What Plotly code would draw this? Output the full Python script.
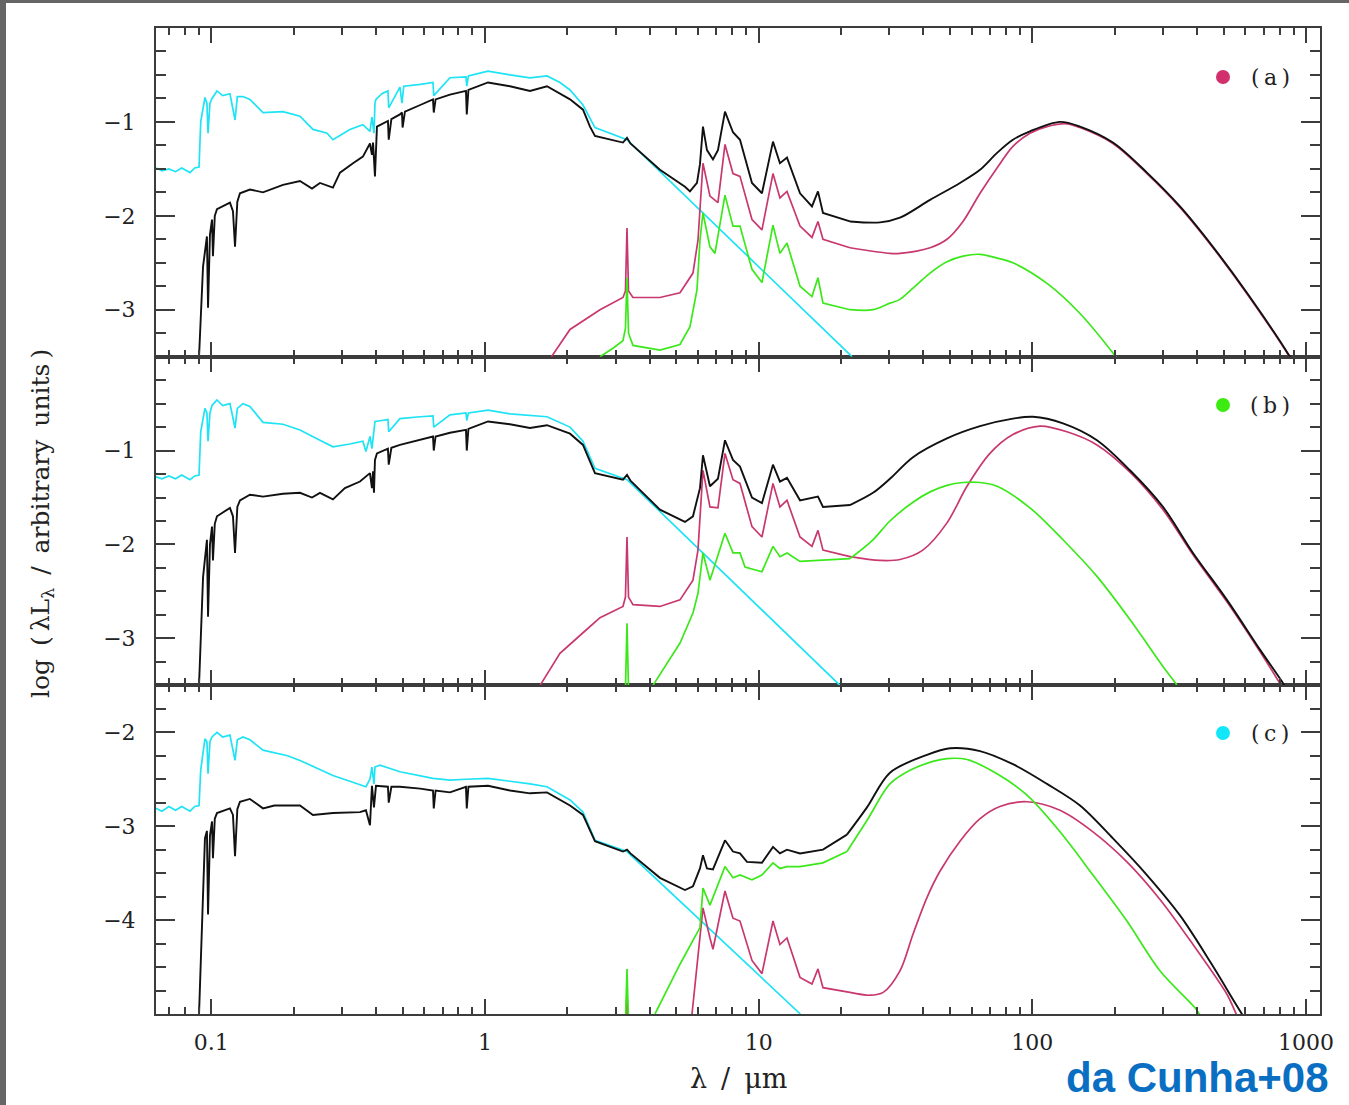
import plotly.graph_objects as go

# ---------------- data: (wavelength in micron, log(lambda L_lambda)) ----------------
# Panel (a)
a_stars = [(0.0628,-1.49),(0.066,-1.52),(0.070,-1.50),(0.074,-1.53),(0.078,-1.49),(0.0836,-1.54),(0.087,-1.49),
           (0.0902,-1.48),(0.0915,-1.00),(0.0948,-0.74),(0.0964,-0.80),(0.0973,-1.12),(0.0989,-0.80),(0.1006,-0.75),
           (0.1049,-0.67),(0.110,-0.72),(0.117,-0.70),(0.1221,-0.98),(0.1245,-0.73),(0.1305,-0.73),(0.1384,-0.76),
           (0.1545,-0.90),(0.1828,-0.89),(0.2109,-0.94),(0.2352,-1.08),(0.265,-1.12),(0.2783,-1.19),(0.321,-1.08),
           (0.358,-1.03),(0.380,-1.10),(0.3864,-0.95),(0.3930,-1.12),(0.3963,-0.80),(0.3997,-0.76),(0.420,-0.70),
           (0.4420,-0.67),(0.4450,-0.85),(0.489,-0.63),(0.4974,-0.80),(0.505,-0.62),(0.580,-0.60),(0.6457,-0.58),
           (0.650,-0.72),(0.745,-0.53),(0.8522,-0.52),(0.858,-0.62),(0.87,-0.51),(1.026,-0.46),(1.234,-0.50),
           (1.460,-0.53),(1.685,-0.51),(1.879,-0.58),(2.045,-0.66),(2.281,-0.82),(2.523,-1.06),(3.303,-1.19),(21.93,-3.50)]
a_total = [(0.0902,-3.50),(0.0933,-2.54),(0.0964,-2.22),(0.0973,-2.98),(0.0989,-2.20),(0.1006,-2.04),(0.1014,-2.43),
           (0.1030,-2.00),(0.1049,-1.93),(0.110,-1.90),(0.117,-1.86),(0.120,-1.95),(0.1221,-2.33),(0.1245,-1.85),
           (0.1273,-1.76),(0.1384,-1.72),(0.1545,-1.75),(0.1828,-1.67),(0.2109,-1.63),(0.2333,-1.71),(0.2495,-1.65),
           (0.2783,-1.70),(0.2953,-1.54),(0.3295,-1.44),(0.358,-1.37),(0.380,-1.23),(0.3864,-1.35),(0.390,-1.22),
           (0.3963,-1.58),(0.403,-1.05),(0.420,-1.02),(0.4420,-0.99),(0.4450,-1.19),(0.455,-0.97),(0.489,-0.92),
           (0.4974,-0.90),(0.500,-1.06),(0.510,-0.89),(0.580,-0.82),(0.6457,-0.76),(0.650,-0.90),(0.660,-0.76),
           (0.745,-0.71),(0.8522,-0.67),(0.858,-0.92),(0.87,-0.66),(1.026,-0.58),(1.234,-0.62),(1.460,-0.67),
           (1.685,-0.62),(2.045,-0.76),(2.281,-0.87),(2.419,-1.05),(2.523,-1.15),(3.193,-1.22),(3.303,-1.17),
           (3.40,-1.23),(4.358,-1.51),(5.380,-1.69),(5.611,-1.74),(5.951,-1.65),(6.103,-1.45),(6.259,-1.05),
           (6.473,-1.30),(6.808,-1.40),(7.100,-1.30),(7.532,-0.89),(8.056,-1.11),(8.546,-1.19),(9.453,-1.65),
           (10.28,-1.76),(11.28,-1.21),(11.96,-1.44),(12.69,-1.38),(14.16,-1.76),(15.66,-1.90),(16.47,-1.74),
           (17.18,-1.97),(21.56,-2.06),(27.75,-2.07),(32.83,-2.02),(42.3,-1.83),(54.4,-1.65),(64.4,-1.51),
           (74.3,-1.33),(84.9,-1.19),(98.0,-1.10),(126.2,-1.00),(149.3,-1.05),(197.0,-1.22),(262.2,-1.54),
           (346.3,-1.90),(457,-2.33),(608,-2.82),(873,-3.50),(900,-3.57)]
a_birth = [(1.75,-3.50),(2.045,-3.21),(2.632,-3.00),(3.193,-2.87),(3.260,-2.80),(3.303,-2.13),(3.346,-2.80),
           (3.473,-2.87),(4.358,-2.87),(5.159,-2.82),(5.754,-2.61),(6.001,-2.26),(6.259,-1.44),(6.638,-1.79),
           (7.100,-1.86),(7.532,-1.24),(8.056,-1.55),(8.546,-1.58),(9.453,-2.04),(10.28,-2.15),(11.28,-1.55),
           (11.96,-1.81),(12.69,-1.74),(14.16,-2.11),(15.66,-2.23),(16.47,-2.06),(17.18,-2.25),(21.56,-2.34),
           (30.18,-2.40),(32.83,-2.40),(42.3,-2.34),(48.76,-2.25),(55.8,-2.06),(64.4,-1.76),(74.3,-1.49),
           (84.9,-1.26),(98.0,-1.12),(113.1,-1.05),(133.8,-1.02),(149.3,-1.06),(197.0,-1.23),(262.2,-1.55),
           (346.3,-1.91),(457,-2.34),(608,-2.83),(873,-3.51),(900,-3.58)]
a_ism = [(2.632,-3.50),(2.936,-3.41),(3.193,-3.33),(3.260,-3.20),(3.303,-2.66),(3.346,-3.25),(3.473,-3.38),
         (4.358,-3.43),(5.159,-3.37),(5.611,-3.18),(5.951,-2.79),(6.103,-2.26),(6.259,-1.97),(6.638,-2.33),
         (6.923,-2.40),(7.532,-1.78),(8.056,-2.11),(8.546,-2.11),(9.453,-2.57),(10.28,-2.71),(11.28,-2.10),
         (11.96,-2.40),(12.69,-2.29),(14.16,-2.75),(15.66,-2.86),(16.47,-2.66),(17.18,-2.93),(21.56,-3.00),
         (26.16,-3.00),(30.18,-2.93),(32.83,-2.89),(36.63,-2.77),(42.3,-2.61),(48.76,-2.49),(55.8,-2.43),
         (64.4,-2.41),(74.3,-2.45),(84.9,-2.50),(113.1,-2.72),(149.3,-3.04),(197.0,-3.46),(204,-3.52)]

# Panel (b)
b_stars = [(0.0628,-1.28),(0.066,-1.30),(0.070,-1.27),(0.074,-1.30),(0.078,-1.26),(0.0836,-1.31),(0.087,-1.27),
           (0.0902,-1.26),(0.0915,-0.80),(0.0948,-0.55),(0.0964,-0.60),(0.0973,-0.90),(0.0989,-0.60),(0.1006,-0.52),
           (0.1049,-0.46),(0.110,-0.52),(0.117,-0.50),(0.1221,-0.76),(0.1245,-0.55),(0.1305,-0.50),(0.1384,-0.53),
           (0.1545,-0.70),(0.1828,-0.72),(0.2109,-0.78),(0.2495,-0.89),(0.2783,-0.96),(0.321,-0.93),(0.358,-0.90),
           (0.3673,-1.01),(0.380,-0.85),(0.3864,-0.98),(0.3963,-0.69),(0.420,-0.68),(0.4420,-0.67),(0.4450,-0.80),
           (0.489,-0.66),(0.580,-0.64),(0.6457,-0.63),(0.650,-0.75),(0.745,-0.62),(0.8522,-0.60),(0.858,-0.68),
           (0.87,-0.60),(1.026,-0.57),(1.234,-0.61),(1.685,-0.64),(2.045,-0.75),(2.281,-0.90),(2.523,-1.19),
           (3.303,-1.31),(19.82,-3.50)]
b_total = [(0.0902,-3.50),(0.0933,-2.35),(0.0964,-1.95),(0.0973,-2.77),(0.0989,-2.00),(0.1006,-1.81),(0.1014,-2.17),
           (0.1030,-1.78),(0.1049,-1.70),(0.110,-1.66),(0.117,-1.61),(0.120,-1.70),(0.1221,-2.09),(0.1245,-1.60),
           (0.1273,-1.53),(0.1384,-1.47),(0.1545,-1.49),(0.1828,-1.46),(0.2109,-1.45),(0.2333,-1.50),(0.2495,-1.45),
           (0.2783,-1.52),(0.3078,-1.40),(0.3494,-1.33),(0.380,-1.24),(0.3864,-1.40),(0.390,-1.22),(0.3930,-1.45),
           (0.3963,-1.10),(0.403,-1.03),(0.4420,-0.98),(0.4450,-1.15),(0.455,-0.97),(0.489,-0.94),(0.580,-0.88),
           (0.6457,-0.85),(0.650,-1.00),(0.660,-0.85),(0.745,-0.81),(0.8522,-0.78),(0.858,-1.00),(0.87,-0.77),
           (1.026,-0.69),(1.234,-0.72),(1.460,-0.76),(1.685,-0.73),(2.045,-0.82),(2.281,-0.94),(2.523,-1.24),
           (3.193,-1.31),(3.303,-1.26),(3.40,-1.32),(4.358,-1.63),(5.380,-1.76),(5.754,-1.70),(6.103,-1.40),
           (6.259,-1.05),(6.638,-1.38),(7.100,-1.30),(7.532,-0.89),(8.056,-1.10),(8.546,-1.17),(9.453,-1.50),
           (10.28,-1.56),(11.28,-1.15),(11.96,-1.33),(12.69,-1.29),(14.16,-1.53),(16.47,-1.49),(17.18,-1.60),
           (21.56,-1.58),(26.16,-1.45),(30.18,-1.30),(36.63,-1.07),(48.76,-0.87),(64.4,-0.74),
           (84.9,-0.66),(100.5,-0.64),(129.4,-0.71),(172.2,-0.89),(227.3,-1.21),(300.1,-1.60),(386.3,-2.09),
           (514,-2.59),(678.6,-3.12),(816.5,-3.46),(850,-3.55)]
b_birth = [(1.59,-3.50),(1.879,-3.16),(2.281,-2.94),(2.632,-2.78),(3.193,-2.66),(3.260,-2.56),(3.303,-1.92),
           (3.346,-2.56),(3.473,-2.64),(4.358,-2.66),(5.159,-2.59),(5.754,-2.38),(6.001,-2.06),(6.259,-1.21),
           (6.638,-1.60),(7.100,-1.61),(7.532,-1.03),(8.056,-1.31),(8.546,-1.35),(9.453,-1.81),(10.28,-1.92),
           (11.28,-1.35),(11.96,-1.60),(12.69,-1.53),(14.16,-1.92),(15.66,-2.02),(16.47,-1.85),(17.18,-2.06),
           (21.56,-2.13),(27.75,-2.17),(32.83,-2.16),(39.8,-2.06),(48.76,-1.77),(57.7,-1.38),(70.0,-1.03),
           (84.9,-0.83),(106.6,-0.74),(133.8,-0.80),(172.2,-0.94),(227.3,-1.23),(300.1,-1.63),(386.3,-2.11),
           (514,-2.61),(678.6,-3.14),(802.9,-3.48),(830,-3.55)]
b_ism = [(3.26,-3.55),(3.303,-2.84),(3.346,-3.55),(None,None),
         (4.11,-3.50),(4.624,-3.26),(5.159,-3.05),(5.754,-2.73),(6.001,-2.52),(6.259,-2.09),(6.638,-2.38),
         (7.532,-1.88),(8.056,-2.09),(8.546,-2.09),(8.913,-2.24),(10.28,-2.29),(11.28,-2.02),(11.96,-2.13),
         (12.69,-2.09),(14.16,-2.18),(16.47,-2.17),(21.56,-2.15),(26.16,-1.95),(30.18,-1.75),
         (36.63,-1.55),(42.3,-1.44),(48.76,-1.37),(55.8,-1.34),(64.4,-1.34),(74.3,-1.38),(98.0,-1.61),
         (129.4,-1.95),(172.2,-2.34),(227.3,-2.80),(300.1,-3.30),(337.6,-3.50),(345,-3.55)]

# Panel (c)
c_stars = [(0.0628,-2.81),(0.066,-2.84),(0.070,-2.79),(0.074,-2.83),(0.078,-2.79),(0.0836,-2.84),(0.087,-2.79),
           (0.0902,-2.78),(0.0915,-2.40),(0.0948,-2.07),(0.0964,-2.10),(0.0973,-2.44),(0.0989,-2.10),(0.1006,-2.05),
           (0.1049,-2.00),(0.110,-2.05),(0.117,-2.03),(0.1221,-2.30),(0.1245,-2.08),(0.1305,-2.05),(0.1384,-2.08),
           (0.1545,-2.19),(0.190,-2.25),(0.2109,-2.30),(0.2783,-2.46),(0.3494,-2.56),(0.3673,-2.58),(0.380,-2.50),
           (0.3864,-2.37),(0.3930,-2.55),(0.3963,-2.37),(0.4134,-2.35),(0.489,-2.42),(0.6457,-2.49),(0.745,-2.51),
           (0.8522,-2.50),(1.026,-2.49),(1.460,-2.55),(1.685,-2.58),(2.045,-2.72),(2.281,-2.85),(2.523,-3.15),
           (3.303,-3.27),(14.2,-5.00)]
c_total = [(0.0902,-5.00),(0.0948,-3.13),(0.0964,-3.05),(0.0973,-3.94),(0.0989,-3.10),(0.1006,-2.95),(0.1014,-3.34),
           (0.1030,-2.92),(0.1049,-2.86),(0.110,-2.84),(0.117,-2.81),(0.120,-2.88),(0.1221,-3.32),(0.1245,-2.82),
           (0.1273,-2.74),(0.1384,-2.71),(0.1545,-2.81),(0.170,-2.78),(0.2109,-2.78),(0.2352,-2.88),(0.2783,-2.86),
           (0.3494,-2.85),(0.3673,-2.83),(0.380,-2.99),(0.3864,-2.57),(0.3930,-2.80),(0.3997,-2.57),(0.4420,-2.58),
           (0.4450,-2.75),(0.455,-2.58),(0.489,-2.58),(0.580,-2.60),(0.6457,-2.62),(0.650,-2.81),(0.660,-2.62),
           (0.745,-2.64),(0.8522,-2.58),(0.858,-2.81),(0.87,-2.58),(1.026,-2.57),(1.234,-2.62),(1.460,-2.65),
           (1.685,-2.64),(2.045,-2.78),(2.281,-2.88),(2.523,-3.16),(3.193,-3.27),(3.303,-3.25),(3.40,-3.29),
           (4.358,-3.55),(5.380,-3.68),(5.754,-3.64),(6.103,-3.45),(6.259,-3.31),(6.473,-3.45),(6.808,-3.46),
           (7.532,-3.15),(8.056,-3.27),(8.546,-3.29),(9.064,-3.38),(10.28,-3.39),(11.28,-3.22),(11.96,-3.29),
           (12.69,-3.25),(14.16,-3.29),(17.18,-3.25),(21.02,-3.09),(24.87,-2.80),(30.18,-2.43),
           (41.2,-2.24),(50.0,-2.17),(64.4,-2.20),(84.9,-2.34),(113.1,-2.55),
           (149.3,-2.78),(197.0,-3.13),(262.2,-3.52),(346.3,-3.95),(450,-4.46),(550,-4.88),(583,-5.00),(600,-5.06)]
c_birth = [(3.27,-5.10),(3.303,-4.75),(3.33,-5.10),(None,None),
           (5.707,-5.00),(5.951,-4.50),(6.259,-3.87),(6.638,-4.19),(6.808,-4.31),(7.532,-3.69),(8.056,-3.98),
           (8.546,-4.01),(9.453,-4.43),(10.28,-4.57),(11.28,-4.01),(11.96,-4.26),(12.69,-4.19),(14.16,-4.61),
           (15.66,-4.68),(16.47,-4.52),(17.18,-4.72),(21.56,-4.77),(25.51,-4.80),(28.5,-4.77),
           (32.83,-4.54),(36.63,-4.15),(41.2,-3.76),(45.96,-3.48),(54.4,-3.16),(64.4,-2.92),(76.1,-2.79),
           (95.6,-2.74),(126.2,-2.83),(166.5,-3.06),(221.6,-3.38),(292.6,-3.78),(386.3,-4.26),(514,-4.79),
           (549.7,-4.97),(560,-5.02)]
c_ism = [(3.26,-5.10),(3.303,-4.52),(3.346,-5.10),(None,None),
         (4.18,-5.00),(5.159,-4.47),(6.103,-4.08),(6.259,-3.66),(6.638,-3.84),(7.532,-3.43),(8.056,-3.55),
         (8.546,-3.52),(9.453,-3.57),(10.28,-3.52),(11.28,-3.39),(11.96,-3.45),(12.69,-3.43),(14.16,-3.43),
         (17.18,-3.39),(21.02,-3.27),(24.87,-2.94),(30.18,-2.55),(36.0,-2.40),(43.34,-2.31),
         (48.76,-2.28),(57.7,-2.29),(76.1,-2.46),(95.6,-2.67),(126.2,-3.06),(166.5,-3.52),(221.6,-4.01),
         (292.6,-4.54),(399.5,-4.96),(410,-5.02)]

panel_labels = ["(a)", "(b)", "(c)"]
x_tick_vals = [0.1, 1, 10, 100, 1000]
x_tick_text = ["0.1", "1", "10", "100", "1000"]
y_ticks_ab = [-1, -2, -3]
y_ticks_c = [-2, -3, -4]

# ---------------- styling ----------------
C_STARS = "#1EE3F5"
C_BIRTH = "#C8386F"
C_ISM = "#3BE81A"
C_TOTAL = "#111111"
DOT_COLORS = ["#D2306C", "#3CEB12", "#12E6F8"]
FRAME = "#3c3c3c"
SERIF = "DejaVu Serif"
SPLIT = 21.0   # longward of this the curves are smooth dust emission

L, R, T, B = 156, 29, 28, 91
W, H = 1349, 1105
PW, PH = W - L - R, H - T - B

def px(xp):
    return (xp - L) / PW

def py(yp):
    return (H - B - yp) / PH

fig = go.Figure()

panels = [
    ("x3", "y3", a_stars, a_birth, a_ism, a_total),
    ("x2", "y2", b_stars, b_birth, b_ism, b_total),
    ("x", "y", c_stars, c_birth, c_ism, c_total),
]

def add_curve(pts, col, w, xa, ya):
    idx = next((i for i, p in enumerate(pts) if p[0] is not None and p[0] >= SPLIT), len(pts) - 1)
    parts = [(pts[:idx + 1], "linear"), (pts[idx:], "spline")]
    for seg, shape in parts:
        if len(seg) < 2:
            continue
        fig.add_trace(go.Scatter(
            x=[p[0] for p in seg], y=[p[1] for p in seg],
            mode="lines", line=dict(color=col, width=w, shape=shape, smoothing=0.9),
            xaxis=xa, yaxis=ya, showlegend=False, hoverinfo="skip", connectgaps=False,
        ))

for xa, ya, stars, birth, ism, total in panels:
    for pts, col, w in [(stars, C_STARS, 1.7), (birth, C_BIRTH, 1.7), (ism, C_ISM, 1.7), (total, C_TOTAL, 1.9)]:
        add_curve(pts, col, w, xa, ya)

minor_x = [k * 10.0 ** e for e in range(-2, 4) for k in range(2, 10)]

def xaxis(labels, anchor):
    return dict(
        type="log", range=[-1.202, 3.051], anchor=anchor,
        showline=True, linecolor=FRAME, linewidth=2, mirror="ticks",
        ticks="inside", ticklen=15, tickwidth=1.5, tickcolor=FRAME,
        tickvals=x_tick_vals, ticktext=x_tick_text, showticklabels=labels,
        ticklabelstandoff=8,
        minor=dict(ticks="inside", ticklen=7, tickwidth=1.5, tickcolor=FRAME, tickvals=minor_x, showgrid=False),
        showgrid=False, zeroline=False,
        tickfont=dict(family=SERIF, size=22, color="#222"),
    )

def yaxis(rng, tv, dom, anchor):
    return dict(
        range=rng, domain=dom, anchor=anchor,
        showline=True, linecolor=FRAME, linewidth=2, mirror="ticks",
        ticks="inside", ticklen=19, tickwidth=1.5, tickcolor=FRAME,
        tickvals=tv, ticktext=["\u2212" + str(abs(v)) for v in tv],
        ticklabelstandoff=14,
        minor=dict(ticks="inside", ticklen=10, tickwidth=1.5, tickcolor=FRAME, dtick=0.25, tick0=0, showgrid=False),
        showgrid=False, zeroline=False,
        tickfont=dict(family=SERIF, size=22, color="#222"),
    )

fig.update_layout(
    width=W, height=H,
    margin=dict(l=L, r=R, t=T, b=B),
    paper_bgcolor="white", plot_bgcolor="white",
    showlegend=False,
    xaxis=xaxis(True, "y"),
    xaxis2=xaxis(False, "y2"),
    xaxis3=xaxis(False, "y3"),
    yaxis=yaxis([-5, -1.5], y_ticks_c, [0, 1 / 3], "x"),
    yaxis2=yaxis([-3.5, 0], y_ticks_ab, [1 / 3, 2 / 3], "x2"),
    yaxis3=yaxis([-3.5, 0], y_ticks_ab, [2 / 3, 1], "x3"),
)

annotations = [
    dict(text="log\u2009 (\u2009\u03bbL<sub>\u03bb</sub>\u2009 / \u2009arbitrary\u2009 units\u2009)", x=px(42), y=py(524),
         xref="paper", yref="paper", textangle=-90, showarrow=False,
         font=dict(family=SERIF, size=25, color="#222"), xanchor="center", yanchor="middle"),
    dict(text="\u03bb\u2009 /\u2009 \u03bcm", x=px(738), y=py(1078), xref="paper", yref="paper", showarrow=False,
         font=dict(family=SERIF, size=27, color="#222"), xanchor="center", yanchor="middle"),
    dict(text="<b>da Cunha+08</b>", x=px(1331), y=py(1077), xref="paper", yref="paper", showarrow=False,
         font=dict(family="Liberation Sans, Arial", size=42, color="#0A6FC2"), xanchor="right", yanchor="middle"),
]
shapes = []
for lab, ydot, col in zip(panel_labels, [77, 405, 733], DOT_COLORS):
    annotations.append(dict(text=lab.replace("(", "(\u2009").replace(")", "\u2009)"), x=px(1270), y=py(ydot),
                            xref="paper", yref="paper", showarrow=False,
                            font=dict(family=SERIF, size=22, color="#222"), xanchor="center", yanchor="middle"))
    shapes.append(dict(type="circle", xref="paper", yref="paper", xsizemode="pixel", ysizemode="pixel",
                       xanchor=px(1223), yanchor=py(ydot), x0=-7, x1=7, y0=-7, y1=7,
                       fillcolor=col, line=dict(width=0)))

# screenshot frame (gray strips at top and left)
shapes.append(dict(type="rect", xref="paper", yref="paper", x0=px(0), x1=px(W), y0=py(3), y1=py(0),
                   fillcolor="#666666", line=dict(width=0), layer="above"))
shapes.append(dict(type="rect", xref="paper", yref="paper", x0=px(0), x1=px(6), y0=py(H), y1=py(0),
                   fillcolor="#666666", line=dict(width=0), layer="above"))

fig.update_layout(annotations=annotations, shapes=shapes)

fig.write_html("out.html")
